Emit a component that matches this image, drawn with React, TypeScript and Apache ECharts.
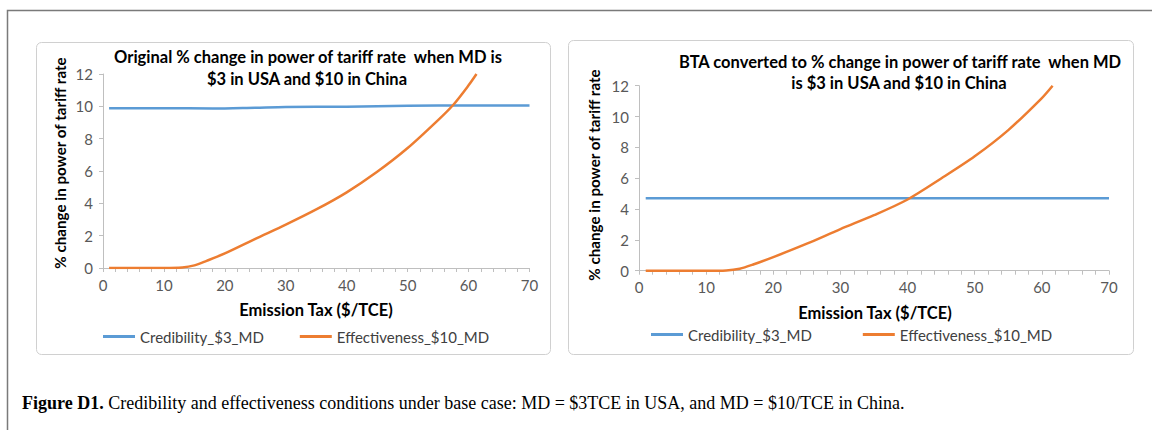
import React, { useEffect, useRef } from "react";
import * as echarts from "echarts";

// ---- data ----
const credLeftX = [1, 10, 18, 25, 30, 40, 50, 60, 70];
const credLeftY = [9.88, 9.88, 9.87, 9.92, 9.96, 9.98, 10.04, 10.05, 10.05];
const effLeftX = [1, 5, 10, 13, 15, 17, 20, 25, 30, 35, 40, 45, 50, 55, 57.5, 60, 61.3];
const effLeftY = [0, 0, 0, 0.03, 0.16, 0.44, 0.9, 1.8, 2.68, 3.62, 4.68, 5.95, 7.42, 9.15, 10.1, 11.3, 12];

const credRightX = [1, 10, 20, 30, 40, 50, 60, 70];
const credRightY = [4.7, 4.7, 4.7, 4.7, 4.7, 4.7, 4.7, 4.7];
const effRightX = [1, 5, 10, 13, 15, 17, 20, 25, 30, 35, 40, 45, 50, 55, 60, 61.6];
const effRightY = [0, 0, 0, 0.02, 0.13, 0.4, 0.88, 1.75, 2.7, 3.6, 4.62, 5.98, 7.42, 9.12, 11.2, 12];

const seriesNames = ["Credibility_$3_MD", "Effectiveness_$10_MD"];
const titleLeft = ["Original % change in power of tariff rate  when MD is", "$3 in USA and $10 in China"];
const titleRight = ["BTA converted to % change in power of tariff rate  when MD", "is $3 in USA and $10 in China"];
const xAxisTitle = "Emission Tax ($/TCE)";
const yAxisTitle = "% change in power of tariff rate";
const captionBold = "Figure D1.";
const captionText =
  " Credibility and effectiveness conditions under base case: MD = $3TCE in USA, and MD = $10/TCE in China.";

const BLUE = "#5B9BD5";
const ORANGE = "#ED7D31";
const AXIS = "#bfbfbf";
const LABEL = "#595959";
const SANS = "Lato, 'Open Sans', sans-serif";

const zip = (xs: number[], ys: number[]) => xs.map((x, i) => [x, ys[i]]);

function xAxisCfg(gridIndex: number) {
  return {
    type: "value",
    gridIndex,
    min: 0,
    max: 70,
    interval: 10,
    splitLine: { show: false },
    axisLine: { show: true, lineStyle: { color: AXIS, width: 1 } },
    axisTick: { show: true, length: 4, lineStyle: { color: AXIS } },
    minorTick: { show: true, splitNumber: 5, length: 4, lineStyle: { color: AXIS } },
    axisLabel: { color: LABEL, fontFamily: SANS, fontSize: 15, margin: 9 },
  };
}
function yAxisCfg(gridIndex: number) {
  return {
    type: "value",
    gridIndex,
    min: 0,
    max: 12,
    interval: 2,
    splitLine: { show: false },
    axisLine: { show: true, lineStyle: { color: AXIS, width: 1 } },
    axisTick: { show: true, length: 4, lineStyle: { color: AXIS } },
    axisLabel: { color: LABEL, fontFamily: SANS, fontSize: 15, margin: 10 },
  };
}
function lineSeries(name: string, data: number[][], color: string, idx: number) {
  return {
    type: "line",
    name,
    xAxisIndex: idx,
    yAxisIndex: idx,
    data,
    smooth: 0.3,
    symbol: "none",
    lineStyle: { color, width: 2.5 },
    itemStyle: { color },
  };
}
function txt(text: string, x: number, y: number, opts: any = {}) {
  return {
    type: "text",
    x,
    y,
    silent: true,
    rotation: opts.rotation || 0,
    style: {
      text,
      fill: opts.fill || "#000",
      fontFamily: opts.fontFamily || SANS,
      fontSize: opts.fontSize || 16.5,
      fontWeight: opts.fontWeight || "bold",
      align: opts.align || "center",
      verticalAlign: "middle",
    },
  };
}

const legendBase = {
  icon: "rect",
  padding: 0,
  itemWidth: 32,
  itemHeight: 3,
  data: seriesNames,
  textStyle: { color: "#404040", fontFamily: SANS, fontSize: 15 },
};

export default function App() {
  const ref = useRef<HTMLDivElement>(null);
  useEffect(() => {
    if (!ref.current) return;
    const chart = echarts.init(ref.current, undefined, { renderer: "svg" });
    chart.setOption({
      animation: false,
      backgroundColor: "#ffffff",
      grid: [
        { left: 103, top: 74, width: 426.5, height: 194 },
        { left: 639, top: 85.7, width: 470, height: 185 },
      ],
      xAxis: [xAxisCfg(0), xAxisCfg(1)],
      yAxis: [yAxisCfg(0), yAxisCfg(1)],
      legend: [
        { ...legendBase, left: 103, top: 329, itemGap: 36 },
        { ...legendBase, left: 651, top: 327, itemGap: 51 },
      ],
      series: [
        lineSeries(seriesNames[0], zip(credLeftX, credLeftY), BLUE, 0),
        lineSeries(seriesNames[1], zip(effLeftX, effLeftY), ORANGE, 0),
        lineSeries(seriesNames[0], zip(credRightX, credRightY), BLUE, 1),
        lineSeries(seriesNames[1], zip(effRightX, effRightY), ORANGE, 1),
      ],
      graphic: [
        {
          type: "rect",
          silent: true,
          z: -10,
          shape: { x: 7.5, y: 10.5, width: 1300, height: 600 },
          style: { fill: "none", stroke: "#7a7a7a", lineWidth: 1.5 },
        },
        {
          type: "rect",
          silent: true,
          z: -9,
          shape: { x: 36.5, y: 42.5, width: 514, height: 312, r: 5 },
          style: { fill: "#fff", stroke: "#d0d0d0", lineWidth: 1 },
        },
        {
          type: "rect",
          silent: true,
          z: -9,
          shape: { x: 568.5, y: 40.5, width: 565, height: 314, r: 5 },
          style: { fill: "#fff", stroke: "#d0d0d0", lineWidth: 1 },
        },
        txt(titleLeft[0], 308, 57),
        txt(titleLeft[1], 307, 79),
        txt(titleRight[0], 900, 62),
        txt(titleRight[1], 899, 83),
        txt(xAxisTitle, 316, 310),
        txt(xAxisTitle, 875, 313),
        txt(yAxisTitle, 60, 163, { rotation: Math.PI / 2, fontSize: 15.2 }),
        txt(yAxisTitle, 594, 175, { rotation: Math.PI / 2, fontSize: 15.2 }),
        {
          type: "text",
          x: 22,
          y: 403,
          silent: true,
          style: {
            text: "{b|" + captionBold + "}" + captionText,
            fill: "#000",
            fontFamily: "'Liberation Serif', serif",
            fontSize: 18,
            verticalAlign: "middle",
            rich: {
              b: { fontFamily: "'Liberation Serif', serif", fontSize: 18, fontWeight: "bold", fill: "#000" },
            },
          },
        },
      ],
    });
    return () => chart.dispose();
  }, []);
  return (
    <div
      ref={ref}
      style={{ position: "absolute", left: 0, top: 0, width: 1152, height: 430 }}
    />
  );
}
